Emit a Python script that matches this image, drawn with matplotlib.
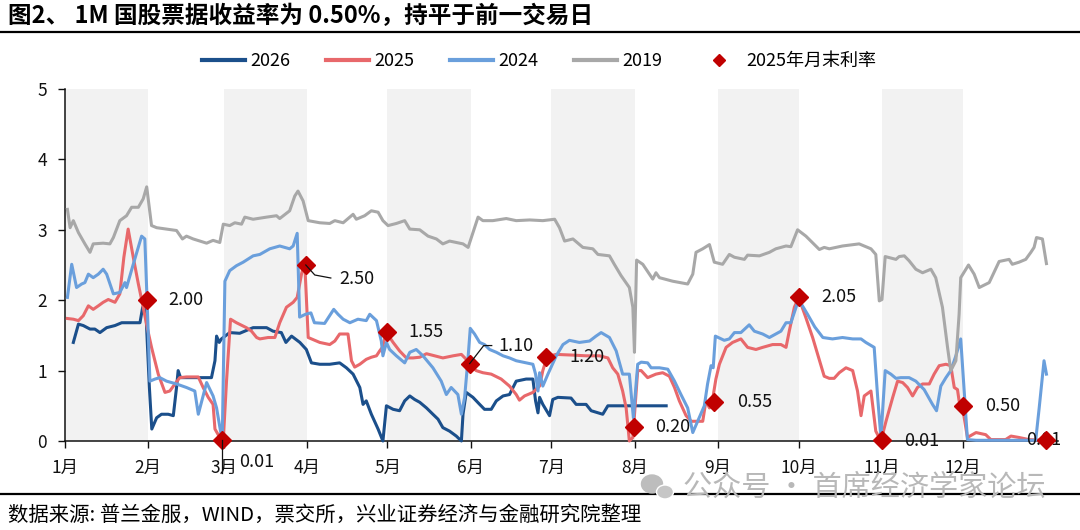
import matplotlib
matplotlib.use('Agg')
import matplotlib.pyplot as plt
from matplotlib.lines import Line2D
from matplotlib.patches import Ellipse
import numpy as np

plt.rcParams['font.family'] = ['Noto Sans CJK SC', 'DejaVu Sans']

# ---------------- data (x = day of year) ----------------
month_labels = ['1月', '2月', '3月', '4月', '5月', '6月', '7月', '8月', '9月', '10月', '11月', '12月']
month_start = [1, 32, 60, 91, 121, 152, 182, 213, 244, 274, 305, 335, 366]

d19 = [1.9, 2.9, 4.1, 6.0, 8.4, 10.3, 11.5, 15.2, 17.7, 19.0,
       21.4, 23.9, 25.8, 28.3, 30.1, 31.4, 33.2, 35.1, 42.5, 44.7,
       46.2, 48.7, 51.2, 53.7, 56.1, 58.6, 59.9, 62.3, 64.2, 66.7,
       67.9, 71.0, 76.0, 79.7, 80.9, 84.6, 86.5, 87.7, 89.6, 91.5,
       95.8, 99.5, 101.4, 104.5, 107.0, 108.2, 109.4, 112.5, 115.0, 117.5,
       119.3, 121.2, 124.3, 127.4, 129.3, 133.0, 136.1, 139.2, 141.6, 144.1,
       146.6, 149.1, 151.0, 152.8, 154.7, 156.5, 160.2, 165.2, 168.9, 173.9,
       178.8, 183.2, 185.0, 186.9, 190.0, 193.7, 197.4, 199.3, 203.6, 205.4,
       207.9, 211.0, 212.3, 212.9, 213.7, 216.0, 219.7, 220.9, 222.2, 227.1,
       232.7, 234.6, 235.8, 238.3, 240.8, 242.6, 245.7, 248.2, 250.1, 253.8,
       255.0, 259.4, 263.1, 265.5, 269.3, 271.1, 273.6, 276.7, 281.7, 283.5,
       285.4, 290.3, 296.5, 300.9, 302.7, 304.0, 305.0, 306.2, 310.2, 311.4,
       313.3, 315.1, 317.6, 320.1, 323.2, 325.0, 327.5, 329.4, 330.6, 332.5,
       333.7, 334.3, 337.2, 339.3, 341.2, 344.9, 348.6, 352.3, 353.5, 356.0,
       358.5, 360.4, 361.6, 362.5, 364.7, 366.2]
v19 = [3.29, 3.03, 3.13, 2.96, 2.80, 2.68, 2.80, 2.81, 2.80, 2.89,
       3.13, 3.20, 3.32, 3.32, 3.44, 3.61, 3.06, 3.03, 2.99, 2.87,
       2.91, 2.87, 2.84, 2.81, 2.85, 2.82, 3.08, 3.06, 3.10, 3.08,
       3.18, 3.15, 3.18, 3.20, 3.16, 3.27, 3.48, 3.55, 3.41, 3.13,
       3.10, 3.09, 3.13, 3.10, 3.18, 3.22, 3.15, 3.20, 3.27, 3.25,
       3.13, 3.06, 3.09, 3.13, 3.01, 3.00, 2.91, 2.87, 2.80, 2.84,
       2.82, 2.80, 2.75, 2.96, 3.18, 3.13, 3.13, 3.16, 3.13, 3.14,
       3.13, 3.15, 3.03, 2.84, 2.87, 2.75, 2.73, 2.65, 2.63, 2.51,
       2.35, 2.18, 1.90, 1.26, 2.57, 2.51, 2.30, 2.39, 2.32, 2.27,
       2.23, 2.37, 2.68, 2.73, 2.79, 2.54, 2.51, 2.65, 2.61, 2.58,
       2.64, 2.63, 2.68, 2.73, 2.77, 2.76, 3.00, 2.91, 2.72, 2.75,
       2.73, 2.77, 2.80, 2.73, 2.65, 1.99, 2.01, 2.62, 2.58, 2.62,
       2.63, 2.56, 2.44, 2.39, 2.44, 2.32, 1.90, 1.33, 1.00, 1.14,
       1.80, 2.32, 2.50, 2.37, 2.18, 2.25, 2.55, 2.58, 2.51, 2.54,
       2.58, 2.68, 2.75, 2.89, 2.87, 2.52]

d24 = [1.9, 3.5, 5.3, 7.2, 8.4, 9.7, 11.5, 13.4, 15.2, 16.5,
       19.0, 21.4, 23.3, 23.9, 26.4, 29.5, 30.7, 31.6, 32.6, 34.5,
       36.3, 38.8, 42.5, 46.2, 49.3, 50.6, 53.7, 56.1, 57.4, 59.5,
       60.5, 62.3, 64.8, 67.3, 71.0, 73.5, 77.2, 80.9, 84.6, 85.9,
       87.4, 88.3, 90.5, 92.5, 93.8, 97.6, 101.0, 102.6, 104.5, 107.0,
       110.0, 113.1, 114.4, 116.9, 118.7, 119.3, 120.6, 121.8, 124.3, 127.4,
       129.3, 131.7, 134.2, 137.9, 141.0, 142.9, 144.7, 147.2, 148.5, 149.7,
       150.9, 151.8, 153.4, 155.3, 157.1, 159.0, 161.5, 164.0, 166.4, 168.9,
       172.6, 175.1, 176.1, 177.0, 177.6, 178.8, 180.7, 183.8, 186.3, 188.7,
       192.4, 196.2, 198.6, 200.5, 203.6, 206.1, 208.5, 211.0, 212.5, 214.1,
       215.4, 217.8, 219.1, 222.2, 225.3, 227.8, 230.2, 232.7, 234.6, 237.0,
       238.9, 240.1, 241.4, 242.2, 243.0, 246.3, 248.2, 250.1, 252.5, 255.6,
       257.5, 260.6, 263.1, 265.5, 267.4, 269.3, 271.1, 274.0, 277.3, 280.0,
       283.0, 286.6, 290.3, 294.1, 297.2, 299.0, 302.1, 303.4, 304.6, 306.2,
       308.3, 310.2, 312.0, 315.1, 317.6, 320.7, 323.8, 325.3, 326.9, 328.8,
       330.6, 332.5, 334.3, 335.6, 336.8, 340.0, 352.3, 362.2, 363.5, 365.3,
       366.2]
v24 = [2.04, 2.51, 2.18, 2.23, 2.25, 2.37, 2.32, 2.37, 2.44, 2.37,
       2.09, 2.11, 2.25, 2.18, 2.51, 2.91, 2.87, 1.94, 0.85, 0.88,
       0.90, 0.85, 0.81, 0.76, 0.71, 0.38, 0.83, 0.64, 0.47, 0.00,
       2.27, 2.42, 2.49, 2.54, 2.63, 2.65, 2.73, 2.77, 2.73, 2.77,
       2.95, 1.76, 1.80, 1.82, 1.68, 1.67, 1.87, 1.80, 1.73, 1.68,
       1.73, 1.71, 1.80, 1.71, 1.42, 1.21, 1.40, 1.30, 1.21, 1.11,
       1.26, 1.30, 1.21, 1.04, 0.85, 0.66, 0.76, 0.66, 0.38, 0.62,
       1.14, 1.60, 1.52, 1.40, 1.37, 1.30, 1.26, 1.21, 1.18, 1.14,
       1.11, 1.09, 0.95, 0.71, 0.97, 0.78, 0.95, 1.21, 1.37, 1.43,
       1.40, 1.42, 1.49, 1.54, 1.47, 1.28, 0.95, 0.95, 0.33, 1.09,
       1.12, 1.11, 1.04, 1.04, 1.02, 0.85, 0.66, 0.47, 0.12, 0.33,
       0.50, 0.81, 1.07, 1.04, 1.49, 1.43, 1.45, 1.54, 1.54, 1.65,
       1.56, 1.52, 1.47, 1.52, 1.56, 1.68, 1.68, 2.01, 1.80, 1.62,
       1.47, 1.45, 1.47, 1.45, 1.45, 1.40, 1.33, 0.62, 0.05, 1.00,
       0.95, 0.89, 0.90, 0.90, 0.85, 0.73, 0.52, 0.43, 0.78, 0.90,
       1.00, 1.21, 1.45, 0.71, 0.02, 0.01, 0.01, 0.01, 0.47, 1.14,
       0.95]

d25 = [1.9, 4.1, 6.0, 7.8, 9.7, 11.5, 13.4, 15.2, 17.1, 19.6,
       21.4, 22.9, 24.5, 26.4, 28.3, 30.1, 31.6, 33.2, 35.7, 38.2,
       40.0, 41.9, 43.7, 46.2, 50.6, 52.4, 54.3, 56.1, 56.8, 58.6,
       59.9, 61.1, 62.6, 64.8, 68.5, 70.4, 72.3, 73.5, 76.6, 79.1,
       80.9, 83.4, 85.9, 87.4, 89.0, 90.2, 91.5, 95.8, 99.5, 101.4,
       103.2, 106.3, 107.6, 108.8, 110.7, 113.1, 115.0, 116.9, 118.1, 119.1,
       120.6, 123.1, 125.5, 128.0, 130.5, 133.0, 135.5, 138.5, 141.6, 145.4,
       148.5, 150.3, 151.6, 154.0, 156.5, 159.6, 163.3, 166.4, 168.9, 170.1,
       172.0, 175.1, 177.6, 178.8, 180.1, 181.3, 183.8, 190.0, 194.9, 199.9,
       203.0, 204.8, 206.7, 208.5, 209.8, 211.0, 212.3, 214.1, 215.4, 217.8,
       220.9, 223.4, 225.9, 227.8, 229.6, 232.1, 234.0, 238.3, 239.5, 240.8,
       241.8, 243.2, 244.5, 247.0, 249.4, 252.5, 255.0, 258.1, 260.6, 264.3,
       267.4, 269.3, 270.5, 272.4, 274.0, 276.7, 279.2, 281.7, 283.5, 285.4,
       287.2, 289.1, 291.6, 294.1, 295.9, 297.2, 298.4, 300.9, 302.7, 304.6,
       306.5, 309.0, 310.8, 312.7, 314.5, 316.4, 318.2, 320.1, 322.6, 324.4,
       326.3, 328.8, 330.6, 331.9, 333.1, 333.7, 335.0, 336.8, 340.0, 343.6,
       345.5, 351.0, 353.0, 356.0, 359.7, 364.7, 366.2]
v25 = [1.74, 1.73, 1.71, 1.78, 1.92, 1.87, 1.92, 1.97, 2.01, 1.97,
       2.09, 2.61, 3.01, 2.61, 2.23, 1.90, 1.61, 1.33, 0.95, 0.69,
       0.71, 0.81, 0.90, 0.91, 0.91, 0.76, 0.62, 0.52, 0.17, 0.05,
       0.01, 0.85, 1.73, 1.68, 1.61, 1.56, 1.47, 1.45, 1.47, 1.47,
       1.68, 1.90, 1.97, 2.04, 2.37, 2.54, 1.47, 1.40, 1.37, 1.42,
       1.52, 1.52, 1.14, 1.05, 1.09, 1.16, 1.19, 1.21, 1.28, 1.33,
       1.54, 1.40, 1.28, 1.18, 1.18, 1.19, 1.24, 1.21, 1.18, 1.21,
       1.23, 1.16, 1.09, 1.00, 0.97, 0.95, 0.88, 0.78, 0.66, 0.58,
       0.64, 0.69, 0.78, 1.00, 1.16, 1.21, 1.23, 1.22, 1.21, 1.21,
       1.18, 1.04, 0.95, 0.71, 0.47, 0.00, 0.05, 1.00, 1.00, 0.90,
       0.95, 0.97, 0.92, 0.76, 0.57, 0.36, 0.28, 0.28, 0.57, 0.47,
       0.55, 0.88, 1.09, 1.33, 1.40, 1.45, 1.33, 1.30, 1.33, 1.37,
       1.37, 1.33, 1.56, 1.90, 2.04, 1.75, 1.47, 1.15, 0.92, 0.89,
       0.89, 0.97, 1.04, 1.00, 0.71, 0.36, 0.64, 0.71, 0.14, 0.00,
       0.28, 0.62, 0.85, 0.83, 0.76, 0.64, 0.76, 0.81, 0.81, 0.95,
       1.07, 1.09, 1.07, 0.76, 0.73, 0.57, 0.47, 0.05, 0.12, 0.09,
       0.02, 0.02, 0.07, 0.05, 0.02, 0.01, 0.01]

d26 = [4.1, 6.0, 7.8, 10.3, 12.1, 14.0, 16.5, 19.6, 22.1, 25.2,
       28.9, 29.9, 31.1, 31.6, 32.4, 33.3, 35.1, 36.9, 39.4, 41.3,
       42.5, 43.1, 44.0, 46.2, 55.5, 56.8, 57.4, 58.4, 59.2, 62.3,
       66.0, 71.0, 76.0, 78.4, 81.5, 83.2, 85.3, 88.4, 90.8, 92.7,
       95.8, 99.5, 103.2, 105.7, 108.2, 110.7, 111.9, 113.1, 115.0, 117.5,
       119.3, 120.6, 123.1, 125.5, 127.4, 129.3, 131.1, 133.0, 135.5, 137.9,
       139.8, 141.6, 144.1, 146.6, 148.5, 149.1, 150.3, 152.8, 155.3, 157.1,
       159.6, 161.5, 164.0, 166.4, 168.9, 172.6, 175.1, 176.1, 177.0, 177.6,
       178.8, 181.3, 182.5, 184.4, 189.3, 191.2, 194.9, 196.8, 201.1, 203.0,
       224.7]
v26 = [1.40, 1.66, 1.64, 1.59, 1.59, 1.54, 1.61, 1.64, 1.68, 1.68,
       1.68, 1.90, 1.85, 1.42, 0.76, 0.17, 0.33, 0.38, 0.38, 0.36,
       0.76, 1.00, 0.90, 0.90, 0.90, 1.14, 1.49, 1.40, 1.45, 1.54,
       1.53, 1.61, 1.61, 1.56, 1.54, 1.40, 1.49, 1.40, 1.30, 1.11,
       1.09, 1.09, 1.11, 1.04, 0.95, 0.76, 0.52, 0.57, 0.38, 0.17,
       0.00, 0.50, 0.45, 0.43, 0.57, 0.64, 0.59, 0.55, 0.47, 0.38,
       0.31, 0.19, 0.14, 0.07, 0.00, 0.38, 0.69, 0.62, 0.52, 0.45,
       0.45, 0.57, 0.64, 0.66, 0.85, 0.88, 0.88, 0.57, 0.40, 0.62,
       0.52, 0.36, 0.59, 0.62, 0.61, 0.52, 0.52, 0.43, 0.38, 0.50,
       0.50]

# 2025 month-end rates
me_days = [31.5, 59.6, 90.6, 120.7, 151.6, 180.0, 212.9, 242.6, 274.2, 305.1, 335.2, 366.0]
me_vals = [2.00, 0.01, 2.50, 1.55, 1.10, 1.20, 0.20, 0.55, 2.05, 0.01, 0.50, 0.01]

series_labels = ['2026', '2025', '2024', '2019', '2025年月末利率']
title = '图2、 1M 国股票据收益率为 0.50%，持平于前一交易日'
footer = '数据来源: 普兰金服，WIND，票交所，兴业证券经济与金融研究院整理'
watermark = '公众号 · 首席经济学家论坛'

# ---------------- styling / layout ----------------
W, H = 1080, 530
c26, c25, c24, c19, cme = '#1b4f8b', '#e8686b', '#6a9fdc', '#a8a8a8', '#c00000'
lbl_dx = [21, 17, 34, 22, 29, 23, 21, 23, 22, 22, 22, -20]
lbl_dy = [0, -22, -14, 0, 18, 0, 0, 0, 0, -1, 0, 0]
leaders = {1: [(0, 0), (0, -33)], 2: [(0, 0), (9, -10), (25, -13)], 4: [(0, 0), (14, 18), (22, 18)]}

fig = plt.figure(figsize=(W / 100, H / 100), dpi=100)
ax = fig.add_axes([65 / W, 89 / H, 993 / W, 352 / H])

for i in range(0, 12, 2):
    ax.axvspan(month_start[i], month_start[i + 1], color='#f2f2f2', lw=0, zorder=0)

lw = 2.2
ax.plot(d26, v26, color=c26, lw=lw, zorder=3, clip_on=False, solid_joinstyle='round')
ax.plot(d25, v25, color=c25, lw=lw, zorder=3.1, clip_on=False, solid_joinstyle='round')
ax.plot(d24, v24, color=c24, lw=lw, zorder=3.2, clip_on=False, solid_joinstyle='round')
ax.plot(d19, v19, color=c19, lw=lw, zorder=3.3, clip_on=False, solid_joinstyle='round')
ax.plot(me_days, me_vals, linestyle='none', marker='D', ms=9, color=cme, zorder=6, clip_on=False)

for i, (x, v) in enumerate(zip(me_days, me_vals)):
    ax.annotate(f'{v:.2f}', xy=(x, v), xytext=(lbl_dx[i], lbl_dy[i]), textcoords='offset pixels',
                ha='left', va='center', fontsize=13, color='#111111', zorder=5, annotation_clip=False)

ax.set_xlim(1, 370.5)
ax.set_ylim(0, 5)
ax.set_xticks(month_start[:12])
ax.set_xticklabels(month_labels)
ax.set_yticks(range(6))
ax.set_yticklabels([str(i) for i in range(6)])
ax.tick_params(axis='both', direction='out', length=5, width=1, labelsize=12.5, pad=8, colors='#111111')
for s in ['top', 'right']:
    ax.spines[s].set_visible(False)
for s in ['left', 'bottom']:
    ax.spines[s].set_linewidth(1.1)
    ax.spines[s].set_color('#111111')

# leader lines (pixel offsets from the diamond)
inv = fig.transFigure.inverted()
for i, pts in leaders.items():
    p0 = ax.transData.transform((me_days[i], me_vals[i]))
    verts = np.array([[p0[0] + dx, p0[1] + dy] for dx, dy in pts])
    fv = inv.transform(verts)
    fig.add_artist(Line2D(fv[:, 0], fv[:, 1], transform=fig.transFigure, color='#111111', lw=0.9, zorder=5))

handles = [Line2D([], [], color=c26, lw=3), Line2D([], [], color=c25, lw=3),
           Line2D([], [], color=c24, lw=3), Line2D([], [], color=c19, lw=3),
           Line2D([], [], color=cme, marker='D', ms=6, linestyle='none')]
ax.legend(handles, series_labels, loc='center', bbox_to_anchor=(539 / W, 1 - 61 / H),
          bbox_transform=fig.transFigure, ncol=5, frameon=False, fontsize=13,
          handlelength=2.4, handletextpad=0.3, columnspacing=1.95)

fig.text(8 / W, 1 - 16 / H, title, fontsize=17, fontweight='bold', ha='left', va='center')
fig.add_artist(Line2D([0, 1], [1 - 32 / H] * 2, transform=fig.transFigure, color='black', lw=1.6))
fig.add_artist(Line2D([0, 1], [1 - 494 / H] * 2, transform=fig.transFigure, color='black', lw=1.6))
fig.text(8 / W, 1 - 515 / H, footer, fontsize=14.7, ha='left', va='center')

# watermark
fig.add_artist(Ellipse((652 / W, 1 - 484 / H), 21 / W, 18 / H, transform=fig.transFigure,
                       color='#bdbdbd', zorder=10))
fig.add_artist(Ellipse((665 / W, 1 - 492 / H), 17 / W, 14 / H, transform=fig.transFigure,
                       facecolor='#c6c6c6', edgecolor='white', lw=1, zorder=10))
fig.text(683 / W, 1 - 488 / H, watermark, fontsize=21, color='#b8b8b8', ha='left', va='center', zorder=10)

fig.savefig('out.png', dpi=100)
